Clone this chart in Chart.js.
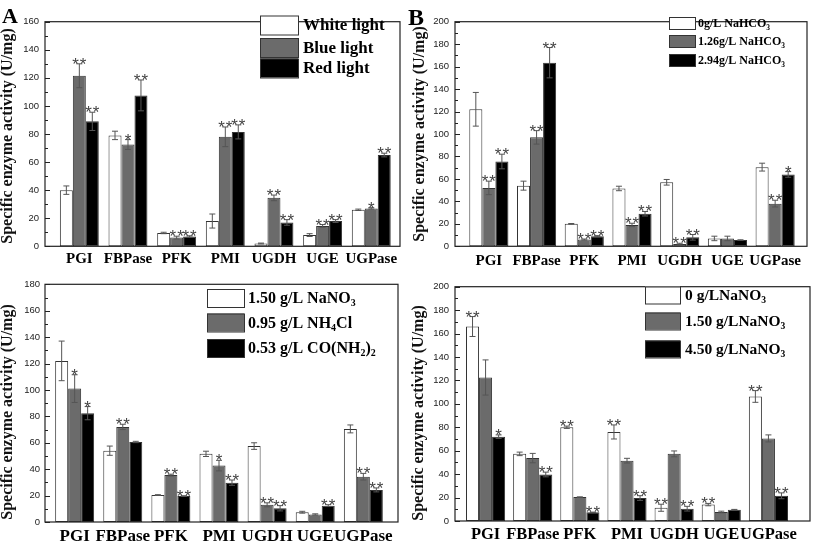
<!DOCTYPE html>
<html><head><meta charset="utf-8">
<script src="https://cdn.jsdelivr.net/npm/chart.js@4"></script>
<style>
body{margin:0;background:#fff;width:813px;height:542px;position:relative;overflow:hidden}
canvas{position:absolute}
</style></head><body>
<canvas id="cA" width="402" height="268" style="left:0;top:0"></canvas>
<canvas id="cB" width="413" height="268" style="left:400px;top:0"></canvas>
<canvas id="cC" width="402" height="274" style="left:0;top:268px"></canvas>
<canvas id="cD" width="413" height="274" style="left:400px;top:268px"></canvas>
<script>
// ---------- data ----------
const categories = ['PGI','FBPase','PFK','PMI','UGDH','UGE','UGPase'];
const yTitle = 'Specific enzyme activity (U/mg)';

// Panel A: light colour
const ticksA = [0,20,40,60,80,100,120,140,160];
const legendA = ['White light','Blue light','Red light'];
const aWhite    = [40, 79, 9.5, 18, 2, 8, 26];
const aWhiteErr = [3, 3, 0.5, 5, 0.3, 1, 0.5];
const aWhiteSig = ['','','','','','',''];
const aBlue     = [121.5, 72.5, 6.2, 78, 34.5, 14.5, 27];
const aBlueErr  = [8.5, 3.5, 1, 7, 2, 1, 0.5];
const aBlueSig  = ['**','*','**','**','**','**','*'];
const aRed      = [89, 107.5, 7, 81.5, 17, 18, 65];
const aRedErr   = [6.5, 11, 0.5, 5, 2, 1, 1.3];
const aRedSig   = ['**','**','**','**','**','**','**'];

// Panel B: NaHCO3
const ticksB = [0,20,40,60,80,100,120,140,160,180,200];
const legendB = ['0g/L NaHCO\u2083','1.26g/L NaHCO\u2083','2.94g/L NaHCO\u2083'];
const bLow      = [122, 54, 20, 51.5, 57, 7, 70.5];
const bLowErr   = [15, 4, 0.3, 2, 2.5, 2, 3.5];
const bLowSig   = ['','','','','','',''];
const bMid      = [52, 97, 6, 19, 2, 7, 38];
const bMidErr   = [6, 6, 0.5, 1.5, 0.7, 2, 3];
const bMidSig   = ['**','**','**','**','**','','**'];
const bHigh     = [75.5, 163.5, 9, 29, 8, 5.5, 64];
const bHighErr  = [6.5, 13.5, 0.5, 2, 2.5, 0.3, 2.5];
const bHighSig  = ['**','**','**','**','**','','*'];

// Panel C: nitrogen source
const ticksC = [0,20,40,60,80,100,120,140,160,180];
const legendC = ['1.50 g/L NaNO\u2083','0.95 g/L NH\u2084Cl','0.53 g/L CO(NH\u2082)\u2082'];
const cNitrate    = [122, 54, 20.4, 51.6, 57.5, 7.4, 70.5];
const cNitrateErr = [15, 3.5, 0.3, 2, 2.5, 0.7, 3];
const cNitrateSig = ['','','','','','',''];
const cAmmon      = [101, 72, 35.5, 42.7, 13, 5.7, 34.3];
const cAmmonErr   = [10.5, 2, 0.7, 4, 1.5, 0.5, 2.5];
const cAmmonSig   = ['*','**','**','*','**','','**'];
const cUrea       = [82.4, 60.6, 19.6, 29.8, 10.4, 12.4, 24.3];
const cUreaErr    = [5, 0.5, 0.3, 2, 2, 0.7, 1.5];
const cUreaSig    = ['*','','**','**','**','**','**'];

// Panel D: NaNO3 concentration
const ticksD = [0,20,40,60,80,100,120,140,160,180,200];
const legendD = ['0 g/LNaNO\u2083','1.50 g/LNaNO\u2083','4.50 g/LNaNO\u2083'];
const dZero     = [166, 57.3, 80, 76, 11.3, 14, 106.3];
const dZeroErr  = [8.5, 1.5, 1, 6, 3, 1, 5];
const dZeroSig  = ['**','','**','**','**','**','**'];
const dMid      = [122.5, 53.7, 20.4, 51.5, 57.3, 7.7, 70.5];
const dMidErr   = [15, 4, 0.2, 2, 2.5, 0.7, 3];
const dMidSig   = ['','','','','','',''];
const dHigh     = [72, 39.7, 7.4, 19.6, 10.5, 9.6, 21.5];
const dHighErr  = [1.5, 2, 0.2, 2, 2, 0.3, 2.5];
const dHighSig  = ['*','**','**','**','**','','**'];

// ---------- style ----------
const FILLS = ['#ffffff','#6b6b6b','#000000'];
const SERIF = "'Liberation Serif', 'Times New Roman', serif";
const SANS = "'Liberation Sans', Arial, sans-serif";

const panels = [
  {id:'cA', ticks:ticksA, legend:legendA, series:[[aWhite,aWhiteErr,aWhiteSig],[aBlue,aBlueErr,aBlueSig],[aRed,aRedErr,aRedSig]],
   area:{l:55,r:395.6,t:6,b:247}, frame:[45,400], tickPad:16, catFont:15, catPad:4, catPct:0.8,
   title:{x:8,y:136,s:16}, letter:{t:'A',x:2,y:23,s:22},
   leg:{x:260,w:38,h:19,ys:[25,47.5,68],tx:303,s:17}},
  {id:'cB', ticks:ticksB, legend:legendB, series:[[bLow,bLowErr,bLowSig],[bMid,bMidErr,bMidSig],[bHigh,bHighErr,bHighSig]],
   area:{l:65,r:399,t:6,b:247}, frame:[55,407], tickPad:16, catFont:15, catPad:6, catPct:0.82,
   title:{x:20,y:134,s:16}, letter:{t:'B',x:8,y:25,s:24},
   leg:{x:269,w:26,h:12,ys:[23,41,60],tx:298,s:12}},
  {id:'cC', ticks:ticksC, legend:legendC, series:[[cNitrate,cNitrateErr,cNitrateSig],[cAmmon,cAmmonErr,cAmmonSig],[cUrea,cUreaErr,cUreaSig]],
   area:{l:50.6,r:387.4,t:12,b:254}, frame:[45,398], tickPad:10.6, catFont:17, catPad:4, catPct:0.81,
   title:{x:8,y:144,s:16}, letter:null,
   leg:{x:207,w:37,h:18,ys:[30,54.5,80],tx:248,s:16}},
  {id:'cD', ticks:ticksD, legend:legendD, series:[[dZero,dZeroErr,dZeroSig],[dMid,dMidErr,dMidSig],[dHigh,dHighErr,dHighSig]],
   area:{l:62,r:392,t:11,b:253}, frame:[55,410], tickPad:13, catFont:16.5, catPad:4, catPct:0.83,
   title:{x:19,y:145,s:16}, letter:null,
   leg:{x:245,w:35,h:17,ys:[27,53,81],tx:285,s:15.5}}
];

// draw text where subscript digit characters are lowered and shrunk
const SUB = '\u2080\u2081\u2082\u2083\u2084\u2085\u2086\u2087\u2088\u2089';
function drawRich(ctx, text, x, y, size) {
  let cx = x;
  for (const ch of text) {
    const k = SUB.indexOf(ch);
    if (k >= 0) {
      ctx.font = `bold ${size*0.62}px ${SERIF}`;
      ctx.fillText(String(k), cx, y + size*0.3);
      cx += ctx.measureText(String(k)).width;
    } else {
      ctx.font = `bold ${size}px ${SERIF}`;
      ctx.fillText(ch, cx, y);
      cx += ctx.measureText(ch).width;
    }
  }
}

const panelPlugin = {
  id: 'panelDeco',
  afterDatasetsDraw(chart, args, o) {
    const ctx = chart.ctx, ys = chart.scales.y;
    ctx.save();
    chart.data.datasets.forEach((ds, di) => {
      const meta = chart.getDatasetMeta(di);
      meta.data.forEach((bar, i) => {
        const v = ds.data[i], e = ds.err[i];
        const top = ys.getPixelForValue(v + e), bot = ys.getPixelForValue(Math.max(0, v - e));
        const x = bar.x, cap = 3;
        ctx.strokeStyle = '#555'; ctx.lineWidth = 1;
        ctx.beginPath();
        ctx.moveTo(x, top); ctx.lineTo(x, bot);
        ctx.moveTo(x-cap, top); ctx.lineTo(x+cap, top);
        ctx.moveTo(x-cap, bot); ctx.lineTo(x+cap, bot);
        ctx.stroke();
        const s = ds.sig[i];
        if (s) {
          ctx.fillStyle = '#444';
          ctx.font = `17px ${SANS}`;
          ctx.letterSpacing = '1px';
          ctx.textAlign = 'center'; ctx.textBaseline = 'alphabetic';
          ctx.fillText(s, x + 0.5, top + 6);
          ctx.letterSpacing = '0px';
        }
      });
    });
    ctx.restore();
  },
  afterDraw(chart, args, o) {
    const ctx = chart.ctx, ys = chart.scales.y, a = chart.chartArea;
    const [fl, fr] = o.frame;
    ctx.save();
    // frame
    ctx.strokeStyle = '#222'; ctx.lineWidth = 1.2;
    ctx.strokeRect(fl, a.top, fr - fl, a.bottom - a.top);
    // inward ticks on left axis
    const t = o.ticks, step = t[1] - t[0];
    ctx.lineWidth = 1;
    for (let v = t[0]; v <= t[t.length-1] + 1e-9; v += step/2) {
      const y = Math.round(ys.getPixelForValue(v)) + 0.5;
      const major = Math.abs((v / step) - Math.round(v / step)) < 1e-6;
      ctx.beginPath(); ctx.moveTo(fl, y); ctx.lineTo(fl + (major ? 5 : 3), y); ctx.stroke();
    }
    // y title
    ctx.fillStyle = '#111';
    ctx.font = `bold ${o.title.s}px ${SERIF}`;
    ctx.translate(o.title.x, o.title.y); ctx.rotate(-Math.PI/2);
    ctx.textAlign = 'center'; ctx.textBaseline = 'middle';
    ctx.fillText(yTitle, 0, 0);
    ctx.setTransform(1,0,0,1,0,0);
    // panel letter
    if (o.letter) {
      ctx.font = `bold ${o.letter.s}px ${SERIF}`;
      ctx.textAlign = 'left'; ctx.textBaseline = 'alphabetic';
      ctx.fillStyle = '#000';
      ctx.fillText(o.letter.t, o.letter.x, o.letter.y);
    }
    // legend
    const L = o.leg;
    chart.data.datasets.forEach((ds, i) => {
      const cy = L.ys[i];
      ctx.fillStyle = ds.backgroundColor;
      ctx.fillRect(L.x, cy - L.h/2, L.w, L.h);
      ctx.strokeStyle = '#333'; ctx.lineWidth = 1;
      ctx.strokeRect(L.x + 0.5, cy - L.h/2 + 0.5, L.w, L.h);
      ctx.fillStyle = '#000';
      ctx.textAlign = 'left'; ctx.textBaseline = 'middle';
      drawRich(ctx, ds.label, L.tx, cy + 1, L.s);
    });
    ctx.restore();
  }
};

panels.forEach(p => {
  const cv = document.getElementById(p.id);
  const W = cv.width, H = cv.height;
  new Chart(cv, {
    type: 'bar',
    data: {
      labels: categories,
      datasets: p.series.map((s, i) => ({
        label: p.legend[i], data: s[0], err: s[1], sig: s[2],
        backgroundColor: FILLS[i], borderColor: '#333', borderWidth: 1, borderSkipped: false,
        categoryPercentage: p.catPct, barPercentage: 1.0
      }))
    },
    options: {
      responsive: false, animation: false,
      devicePixelRatio: 1,
      layout: {padding: {left: 0, top: p.area.t, right: W - p.area.r, bottom: 0}},
      plugins: {legend: {display: false}, tooltip: {enabled: false},
        panelDeco: {frame: p.frame, ticks: p.ticks, title: p.title, letter: p.letter, leg: p.leg}},
      scales: {
        x: {
          offset: true,
          grid: {display: false, drawTicks: false}, border: {display: false},
          ticks: {color: '#000', padding: p.catPad, maxRotation: 0, autoSkip: false,
                  font: {family: SERIF, weight: 'bold', size: p.catFont}},
          afterFit(s) { s.height = H - p.area.b; }
        },
        y: {
          min: p.ticks[0], max: p.ticks[p.ticks.length-1],
          grid: {display: false, drawTicks: false}, border: {display: false},
          ticks: {stepSize: p.ticks[1] - p.ticks[0], color: '#222', padding: p.tickPad,
                  font: {family: SANS, size: 9.5}},
          afterFit(s) { s.width = p.area.l; }
        }
      }
    },
    plugins: [panelPlugin]
  });
});
</script>
</body></html>
